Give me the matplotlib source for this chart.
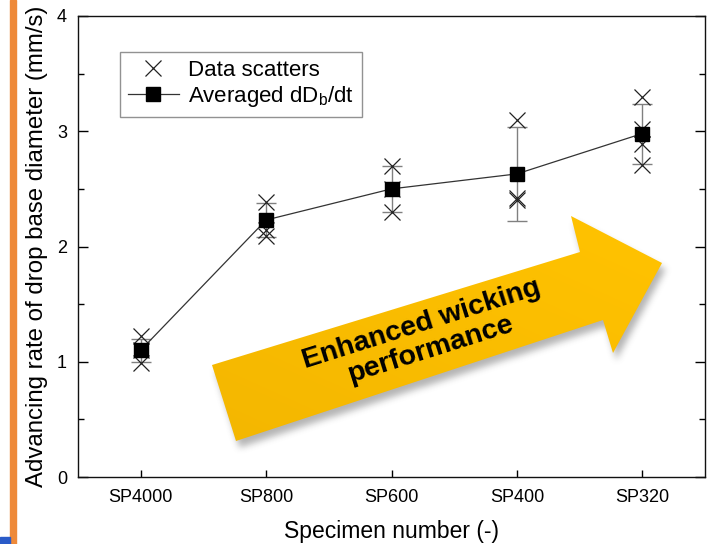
import numpy as np
import matplotlib
matplotlib.use("Agg")
import matplotlib.pyplot as plt
from matplotlib.patches import Polygon, Rectangle
from matplotlib.path import Path
from matplotlib.lines import Line2D

plt.rcParams['font.family'] = ['Liberation Sans', 'DejaVu Sans']
plt.rcParams['mathtext.fontset'] = 'custom'
plt.rcParams['mathtext.rm'] = 'Liberation Sans'

# ---- data ----
specimens = ['SP4000', 'SP800', 'SP600', 'SP400', 'SP320']
scatter_sp4000 = [1.22, 1.10, 0.99]
scatter_sp800 = [2.39, 2.14, 2.09]
scatter_sp600 = [2.70, 2.50, 2.30]
scatter_sp400 = [3.10, 2.40, 2.42]
scatter_sp320 = [3.30, 3.02, 2.89, 2.71]
averaged_rate = [1.10, 2.23, 2.50, 2.63, 2.98]
rate_error = [0.10, 0.15, 0.20, 0.41, 0.26]
y_ticks = [0, 1, 2, 3, 4]

W, H = 710, 544
fig = plt.figure(figsize=(W / 100, H / 100), dpi=100)
fig.patch.set_facecolor('white')

ax = fig.add_axes([78 / W, (H - 477) / H, (705 - 78) / W, (477 - 16) / H])
xpos = np.arange(len(specimens))

# scattered measurements
all_scatter = [scatter_sp4000, scatter_sp800, scatter_sp600, scatter_sp400, scatter_sp320]
for i, vals in enumerate(all_scatter):
    ax.plot([xpos[i]] * len(vals), vals, linestyle='none', marker='x',
            markersize=12, markeredgewidth=0.9, color='#222222', zorder=3)

# error bars and averages
ax.errorbar(xpos, averaged_rate, yerr=rate_error, fmt='none', ecolor='#808080',
            elinewidth=1.0, capsize=7, capthick=1.0, zorder=2)
ax.plot(xpos, averaged_rate, color='#333333', linewidth=0.9, zorder=2)
ax.plot(xpos, averaged_rate, linestyle='none', marker='s', markersize=10,
        color='black', zorder=4)

ax.set_xlim(-0.5, 4.5)
ax.set_ylim(0, 4)
ax.set_xticks(xpos)
ax.set_xticklabels(specimens, fontsize=13)
ax.set_yticks(y_ticks)
ax.set_yticklabels([str(v) for v in y_ticks], fontsize=13)
ax.set_yticks(np.arange(0.5, 4, 1.0), minor=True)
ax.tick_params(axis='y', which='major', direction='in', length=7, width=1,
               left=True, right=True, pad=8)
ax.tick_params(axis='y', which='minor', direction='in', length=4, width=1,
               left=True, right=True)
ax.tick_params(axis='x', which='major', direction='in', length=5, width=1,
               top=False, pad=9)
for s in ax.spines.values():
    s.set_linewidth(1.0)
    s.set_color('#111111')

ax.set_xlabel('Specimen number (-)', fontsize=16.5, labelpad=10)
ax.set_ylabel('Advancing rate of drop base diameter (mm/s)', fontsize=17.3, labelpad=6)

handles = [
    Line2D([], [], linestyle='none', marker='x', markersize=12,
           markeredgewidth=0.9, color='#222222'),
    Line2D([], [], color='#333333', linewidth=0.9, marker='s',
           markersize=10, markerfacecolor='black', markeredgecolor='black'),
]
leg = ax.legend(handles, ['Data scatters', r'Averaged dD$_\mathregular{b}$/dt'],
                loc='upper left', bbox_to_anchor=(0.067, 0.922), borderaxespad=0,
                fontsize=16, frameon=True, fancybox=False, handlelength=2.3,
                handletextpad=0.4, borderpad=0.35, labelspacing=0.15)
leg.get_frame().set_edgecolor('#777777')
leg.get_frame().set_linewidth(1.0)

# ---- overlay in figure pixel coordinates ----
ov = fig.add_axes([0, 0, 1, 1], zorder=10)
ov.set_xlim(0, W)
ov.set_ylim(H, 0)
ov.axis('off')
ov.patch.set_alpha(0)

# side decorations
ov.add_patch(Rectangle((10, 0), 6, H, color='#EE8A3A', zorder=1))
ov.add_patch(Rectangle((0, 537), 10, 7, color='#2A5BC8', zorder=1))

# big arrow outline
arrow_pts = np.array([
    (212, 365), (580, 252), (571, 216), (662, 263),
    (613, 353), (603, 320), (236, 441),
])

# soft shadow
gx, gy = np.meshgrid(np.arange(190, 690), np.arange(195, 470))
mask = Path(arrow_pts + np.array([3, 6])).contains_points(
    np.c_[gx.ravel(), gy.ravel()]).reshape(gx.shape).astype(float)
k = np.exp(-0.5 * (np.arange(-8, 9) / 3.5) ** 2)
k /= k.sum()
blur = np.apply_along_axis(lambda r: np.convolve(r, k, mode='same'), 1, mask)
blur = np.apply_along_axis(lambda c: np.convolve(c, k, mode='same'), 0, blur)
shadow = np.zeros(gx.shape + (4,))
shadow[..., :3] = 0.35
shadow[..., 3] = blur * 0.45
ov.imshow(shadow, extent=(190, 690, 470, 195), origin='upper', zorder=2,
          interpolation='bilinear')

# gradient fill clipped to the arrow
theta = np.deg2rad(17.5)
nx, ny = -np.sin(theta), -np.cos(theta)
u = (gx - 400) * nx + (gy - 330) * ny
u = (u - u.min()) / (u.max() - u.min())
v = np.clip(((gx - 200) / 470.0), 0, 1)
light = np.array([1.0, 0.82, 0.25])
mid = np.array([1.0, 0.76, 0.0])
dark = np.array([0.96, 0.72, 0.0])
t = np.clip(u * 0.6 + v * 0.5 - 0.3, 0, 1)[..., None]
grad = np.where(t > 0.5, mid + (light - mid) * (t - 0.5) * 2, dark + (mid - dark) * t * 2)
img = ov.imshow(np.clip(grad, 0, 1), extent=(190, 690, 470, 195), origin='upper',
                zorder=3, interpolation='bilinear')
arrow_patch = Polygon(arrow_pts, closed=True, facecolor='none', edgecolor='none')
ov.add_patch(arrow_patch)
img.set_clip_path(arrow_patch)

ov.text(426, 337, 'Enhanced wicking\nperformance', rotation=17.5,
        rotation_mode='anchor', ha='center', va='center', fontsize=20.5,
        fontweight='bold', color='black', linespacing=1.08, zorder=5)

fig.savefig('out.png', dpi=100)
